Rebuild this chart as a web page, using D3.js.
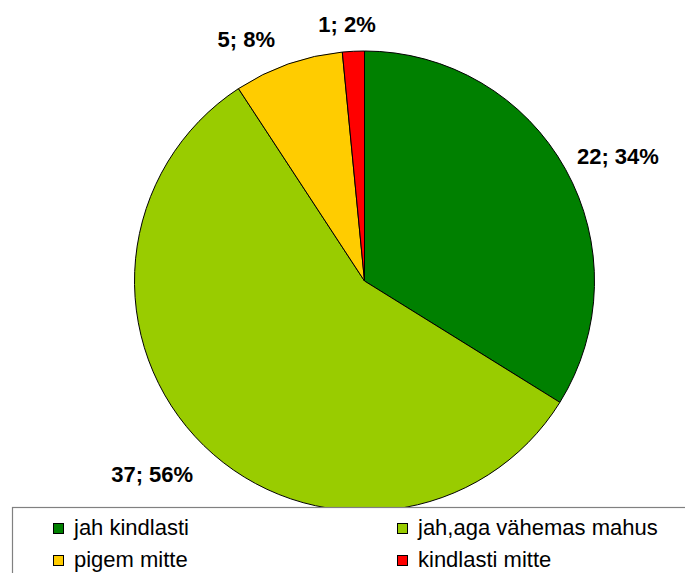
<!DOCTYPE html>
<html><head><meta charset="utf-8">
<script src="https://cdn.jsdelivr.net/npm/d3@7"></script>
<style>html,body{margin:0;padding:0;background:#fff;}svg{display:block;}</style>
</head><body>
<svg id="chart" width="685" height="573"></svg>
<script>
const categories = ["jah kindlasti", "jah,aga vähemas mahus", "pigem mitte", "kindlasti mitte"];
const values = [22, 37, 5, 1];
const percentLabels = ["34%", "56%", "8%", "2%"];
const colors = ["#008000", "#99CC00", "#FFCC00", "#FF0000"];

const svg = d3.select("#chart");
const cx = 364.5, cy = 281, R = 230;
const font = "'Liberation Sans', Arial, sans-serif";

const pie = d3.pie().sort(null).value(d => d.v);
const arcs = pie(values.map((v, i) => ({v, i})));
const arc = d3.arc().innerRadius(0).outerRadius(R);

const g = svg.append("g").attr("transform", `translate(${cx},${cy})`);
g.selectAll("path").data(arcs).join("path")
  .attr("d", arc)
  .attr("fill", d => colors[d.data.i])
  .attr("stroke", "#000")
  .attr("stroke-width", 1)
  .attr("stroke-linejoin", "round");

// data labels (placed outside the slice ends)
const labelPad = [19, 33, 19, 19];
const labelShiftX = [0, 0, -26, -4];
const capH = 15;
arcs.forEach((d, k) => {
  const a = (d.startAngle + d.endAngle) / 2;
  const r = R + labelPad[k];
  const s = Math.sin(a), c = Math.cos(a);
  const t = g.append("text")
    .attr("font-family", font)
    .attr("font-weight", "bold")
    .attr("font-size", 22)
    .attr("fill", "#000")
    .attr("text-anchor", "middle")
    .text(`${values[k]}; ${percentLabels[k]}`);
  const w = t.node().getComputedTextLength();
  const px = (r + w / 2) * s + labelShiftX[k];
  const py = -(r + capH / 2) * c;
  t.attr("x", px).attr("y", py + capH / 2);
});

// legend
const lg = svg.append("g");
lg.append("rect")
  .attr("x", 12.5).attr("y", 507.5)
  .attr("width", 700).attr("height", 100)
  .attr("fill", "#fff")
  .attr("stroke", "#808080")
  .attr("stroke-width", 1.2);
const colX = [53, 397];
const rowY = [535, 567];
categories.forEach((name, i) => {
  const x = colX[i % 2], y = rowY[Math.floor(i / 2)];
  lg.append("rect")
    .attr("x", x + 0.5).attr("y", y - 12 + 0.5)
    .attr("width", 10).attr("height", 10)
    .attr("fill", colors[i])
    .attr("stroke", "#000").attr("stroke-width", 1);
  lg.append("text")
    .attr("x", x + 21).attr("y", y)
    .attr("font-family", font)
    .attr("font-size", 22)
    .attr("fill", "#000")
    .text(name);
});
</script>
</body></html>
